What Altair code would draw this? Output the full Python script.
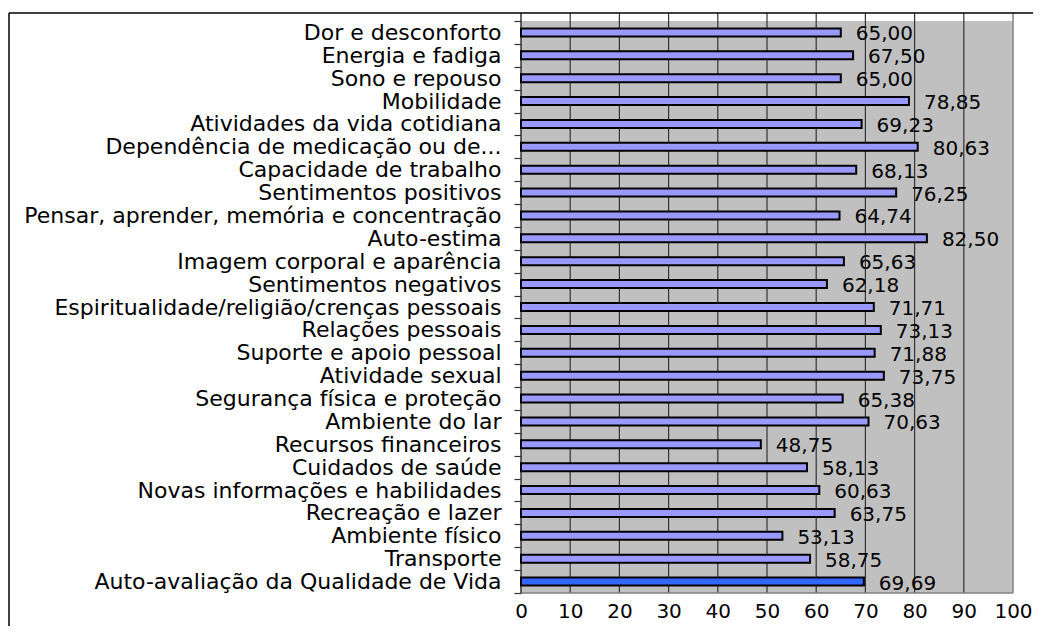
import altair as alt
import pandas as pd

categories = [
    "Dor e desconforto",
    "Energia e fadiga",
    "Sono e repouso",
    "Mobilidade",
    "Atividades da vida cotidiana",
    "Dependência de medicação ou de...",
    "Capacidade de trabalho",
    "Sentimentos positivos",
    "Pensar, aprender, memória e concentração",
    "Auto-estima",
    "Imagem corporal e aparência",
    "Sentimentos negativos",
    "Espiritualidade/religião/crenças pessoais",
    "Relações pessoais",
    "Suporte e apoio pessoal",
    "Atividade sexual",
    "Segurança física e proteção",
    "Ambiente do lar",
    "Recursos financeiros",
    "Cuidados de saúde",
    "Novas informações e habilidades",
    "Recreação e lazer",
    "Ambiente físico",
    "Transporte",
    "Auto-avaliação da Qualidade de Vida",
]
values = [65.00, 67.50, 65.00, 78.85, 69.23, 80.63, 68.13, 76.25, 64.74, 82.50,
          65.63, 62.18, 71.71, 73.13, 71.88, 73.75, 65.38, 70.63, 48.75, 58.13,
          60.63, 63.75, 53.13, 58.75, 69.69]
x_ticks = [0, 10, 20, 30, 40, 50, 60, 70, 80, 90, 100]
grid_vals = [10, 20, 30, 40, 50, 60, 70, 80, 90]
highlight = "Auto-avaliação da Qualidade de Vida"

df = pd.DataFrame({
    "cat": categories,
    "v": values,
    "lbl": [f"{v:.2f}".replace(".", ",") for v in values],
})
grid_df = pd.DataFrame({"g": grid_vals})
edge_df = pd.DataFrame({"g": [100]})

W, H = 492, 572
PL, PT, PR, PB = 513, 13, 20, 33
FONT = "DejaVu Sans"
xscale = alt.Scale(domain=[0, 100], nice=False, zero=True)
yscale = alt.Scale(paddingInner=0, paddingOuter=0)

bars = alt.Chart(df).mark_bar(
    size=8, stroke="black", strokeWidth=2
).encode(
    x=alt.X("v:Q", scale=xscale, title=None,
            axis=alt.Axis(values=x_ticks, grid=False, domain=False, ticks=False,
                          tickSize=0, labelPadding=8, labelFont=FONT,
                          labelFontSize=20, labelColor="black", labelFlush=False)),
    y=alt.Y("cat:N", sort=categories, scale=yscale, title=None,
            axis=alt.Axis(tickBand="extent", tickSize=7, tickColor="#333333",
                          tickWidth=1.2, domain=False, labelPadding=13,
                          labelFont=FONT, labelFontSize=22, labelColor="black",
                          labelLimit=0)),
    color=alt.condition(alt.datum.cat == highlight, alt.value("#3366FF"), alt.value("#9999FF")),
)

grid = alt.Chart(grid_df).mark_rule(color="#333333", strokeWidth=1.2).encode(
    x=alt.X("g:Q", scale=xscale), y=alt.value(-8), y2=alt.value(H)
)
right_edge = alt.Chart(edge_df).mark_rule(color="#808080", strokeWidth=1.5).encode(
    x=alt.X("g:Q", scale=xscale), y=alt.value(-8), y2=alt.value(H)
)
bottom_edge = alt.Chart(edge_df).mark_rule(color="#808080", strokeWidth=1.5).encode(
    x=alt.value(0), x2=alt.value(W), y=alt.value(H)
)
left_axis = alt.Chart(edge_df).mark_rule(color="#333333", strokeWidth=1.5).encode(
    x=alt.value(0), y=alt.value(-8), y2=alt.value(H)
)
frame_top = alt.Chart(edge_df).mark_rule(color="black", strokeWidth=1.5).encode(
    x=alt.value(-PL + 1), x2=alt.value(W + PR), y=alt.value(-8)
)
frame_left = alt.Chart(edge_df).mark_rule(color="black", strokeWidth=1.5).encode(
    x=alt.value(-PL + 1), y=alt.value(-8), y2=alt.value(H + PB)
)

text = alt.Chart(df).mark_text(
    align="left", baseline="middle", dx=15, dy=2, font=FONT, fontSize=20, color="black"
).encode(
    x=alt.X("v:Q", scale=xscale),
    y=alt.Y("cat:N", sort=categories, scale=yscale),
    text="lbl:N",
)

chart = alt.layer(
    grid, right_edge, bottom_edge, left_axis, bars, text, frame_top, frame_left
).properties(
    width=W, height=H,
    autosize=alt.AutoSizeParams(type="none"),
    padding={"left": PL, "top": PT, "right": PR, "bottom": PB},
    background="white",
).configure_view(
    fill="#C0C0C0", stroke=None
)

chart.save("out.html", embed_options={"renderer": "svg", "actions": False})
